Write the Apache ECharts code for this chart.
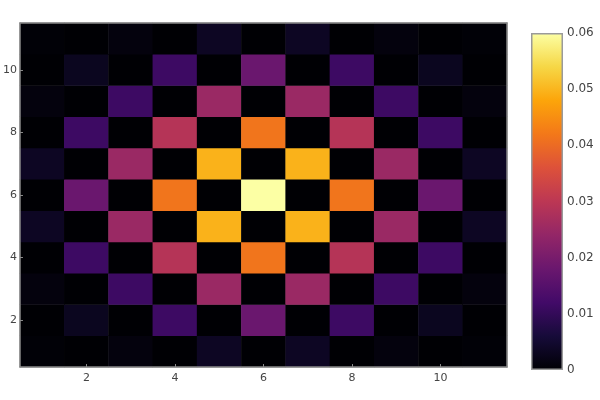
<!DOCTYPE html>
<html>
<head>
<meta charset="utf-8">
<script src="https://cdn.jsdelivr.net/npm/echarts@6/dist/echarts.min.js"></script>
<style>html,body{margin:0;padding:0;background:#fff;}#c{width:600px;height:400px;}</style>
</head>
<body>
<div id="c"></div>
<script>
// categories
const xCategories = ['1','2','3','4','5','6','7','8','9','10','11'];
const yCategories = ['1','2','3','4','5','6','7','8','9','10','11'];
const tickLabels = ['2','4','6','8','10'];
const colorbarTicks = [0, 0.01, 0.02, 0.03, 0.04, 0.05, 0.06];
// values, one row per y (bottom row y=1 first)
const row1  = [0.0003, 0, 0.001, 0, 0.0035, 0, 0.0035, 0, 0.001, 0, 0.0003];
const row2  = [0, 0.003, 0, 0.0113, 0, 0.018, 0, 0.0113, 0, 0.003, 0];
const row3  = [0.001, 0, 0.0113, 0, 0.025, 0, 0.025, 0, 0.0113, 0, 0.001];
const row4  = [0, 0.0113, 0, 0.029, 0, 0.0415, 0, 0.029, 0, 0.0113, 0];
const row5  = [0.0035, 0, 0.025, 0, 0.0496, 0, 0.0496, 0, 0.025, 0, 0.0035];
const row6  = [0, 0.018, 0, 0.0415, 0, 0.06, 0, 0.0415, 0, 0.018, 0];
const row7  = [0.0035, 0, 0.025, 0, 0.0496, 0, 0.0496, 0, 0.025, 0, 0.0035];
const row8  = [0, 0.0113, 0, 0.029, 0, 0.0415, 0, 0.029, 0, 0.0113, 0];
const row9  = [0.001, 0, 0.0113, 0, 0.025, 0, 0.025, 0, 0.0113, 0, 0.001];
const row10 = [0, 0.003, 0, 0.0113, 0, 0.018, 0, 0.0113, 0, 0.003, 0];
const row11 = [0.0003, 0, 0.001, 0, 0.0035, 0, 0.0035, 0, 0.001, 0, 0.0003];
const rows = [row1,row2,row3,row4,row5,row6,row7,row8,row9,row10,row11];

const inferno = ['#000004','#160b39','#420a68','#6a176e','#932667','#bc3754','#dd513a','#f37819','#fca50a','#f6d746','#fcffa4'];
const zMin = 0, zMax = 0.06;

const heatData = [];
rows.forEach((r, yi) => r.forEach((v, xi) => heatData.push([xi, yi, v])));

const font = 'DejaVu Sans';
const axisGray = '#8a8a8a';
const labelColor = '#444';

const chart = echarts.init(document.getElementById('c'), null, {renderer: 'canvas'});
const showTick = (i) => tickLabels.indexOf(xCategories[i]) >= 0;

chart.setOption({
  animation: false,
  backgroundColor: '#fff',
  grid: [
    {left: 18, top: 23, width: 489, height: 344},
    {left: 531, top: 33, width: 32, height: 337}
  ],
  xAxis: [
    {type: 'category', data: xCategories, gridIndex: 0, z: 5,
     axisLine: {show: true, lineStyle: {color: axisGray, width: 1.5}},
     axisTick: {show: true, inside: true, length: 3, alignWithLabel: true, interval: (i) => showTick(i), lineStyle: {color: axisGray}},
     axisLabel: {interval: (i) => showTick(i), margin: 6, color: labelColor, fontFamily: font, fontSize: 11},
     splitLine: {show: false}},
    {type: 'category', data: xCategories, gridIndex: 0, position: 'top', z: 5,
     axisLine: {show: true, lineStyle: {color: axisGray, width: 1.5}},
     axisTick: {show: false}, axisLabel: {show: false}},
    {type: 'category', data: ['cb'], gridIndex: 1, show: false}
  ],
  yAxis: [
    {type: 'category', data: yCategories, gridIndex: 0, z: 5,
     axisLine: {show: true, lineStyle: {color: axisGray, width: 1.5}},
     axisTick: {show: true, inside: true, length: 3, alignWithLabel: true, interval: (i) => tickLabels.indexOf(yCategories[i]) >= 0, lineStyle: {color: axisGray}},
     axisLabel: {interval: (i) => tickLabels.indexOf(yCategories[i]) >= 0, margin: 3, color: labelColor, fontFamily: font, fontSize: 11},
     splitLine: {show: false}},
    {type: 'category', data: yCategories, gridIndex: 0, position: 'right', z: 5,
     axisLine: {show: true, lineStyle: {color: axisGray, width: 1.5}},
     axisTick: {show: false}, axisLabel: {show: false}},
    {type: 'value', gridIndex: 1, position: 'right', min: colorbarTicks[0], max: colorbarTicks[colorbarTicks.length-1], interval: 0.01,
     axisLine: {show: false}, axisTick: {show: false}, splitLine: {show: false},
     axisLabel: {margin: 4, color: labelColor, fontFamily: font, fontSize: 12}}
  ],
  visualMap: {
    type: 'continuous', show: false, min: zMin, max: zMax, seriesIndex: 0, dimension: 2,
    inRange: {color: inferno}
  },
  series: [
    {type: 'heatmap', xAxisIndex: 0, yAxisIndex: 0, data: heatData, itemStyle: {borderWidth: 0}, emphasis: {disabled: true}},
    {type: 'bar', xAxisIndex: 2, yAxisIndex: 2, data: [zMax], barWidth: '100%', silent: true,
     itemStyle: {
       borderColor: '#9a9a9a', borderWidth: 1.5,
       color: new echarts.graphic.LinearGradient(0, 1, 0, 0, inferno.map((c, i) => ({offset: i / (inferno.length - 1), color: c})))
     }}
  ]
});
</script>
</body>
</html>
